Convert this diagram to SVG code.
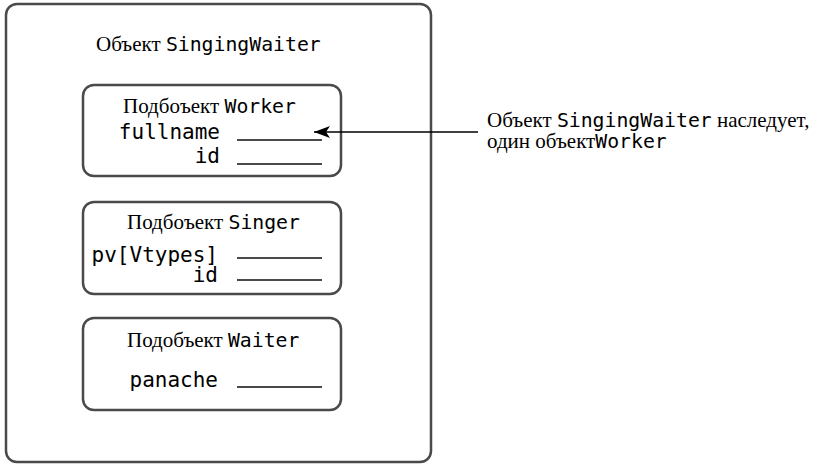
<svg xmlns="http://www.w3.org/2000/svg" width="819" height="464" viewBox="0 0 819 464">
<defs>
<style>
.box{fill:#fff;stroke:#4a4a4a;stroke-width:2.5}
.fld{stroke:#4a4a4a;stroke-width:2.2}
.ser{font-family:"Liberation Serif","Times New Roman",serif;font-size:21px;fill:#000}
.mono{font-family:"DejaVu Sans Mono","Liberation Mono",monospace;font-size:19.8px}
.fname{font-family:"DejaVu Sans Mono","Liberation Mono",monospace;font-size:21px;fill:#000}
</style>
<marker id="ah" markerWidth="16" markerHeight="12" refX="16" refY="6" orient="auto" markerUnits="userSpaceOnUse">
<path d="M0,0 L16,6 L0,12 L4,6 Z" fill="#000"/>
</marker>
</defs>
<rect width="819" height="464" fill="#fff"/>
<g id="singingwaiter">
<rect class="box" x="6" y="4" width="425" height="458" rx="11"/>
<text class="ser" x="96" y="51">Объект <tspan class="mono">SingingWaiter</tspan></text>
</g>
<g id="worker">
<rect class="box" x="83" y="85" width="258" height="91" rx="11"/>
<text class="ser" x="123" y="113">Подбоъект <tspan class="mono">Worker</tspan></text>
<text class="fname" x="220" y="139" text-anchor="end">fullname</text>
<text class="fname" x="220" y="163" text-anchor="end">id</text>
<line class="fld" x1="237" y1="140" x2="322" y2="140"/>
<line class="fld" x1="237" y1="164" x2="322" y2="164"/>
</g>
<g id="singer">
<rect class="box" x="83" y="202" width="258" height="92" rx="11"/>
<text class="ser" x="127" y="229">Подбоъект <tspan class="mono">Singer</tspan></text>
<text class="fname" x="218" y="262" text-anchor="end">pv[Vtypes]</text>
<text class="fname" x="218" y="282" text-anchor="end">id</text>
<line class="fld" x1="237" y1="258" x2="322" y2="258"/>
<line class="fld" x1="237" y1="280" x2="322" y2="280"/>
</g>
<g id="waiter">
<rect class="box" x="83" y="318" width="258" height="92" rx="11"/>
<text class="ser" x="127" y="347">Подобъект <tspan class="mono">Waiter</tspan></text>
<text class="fname" x="218" y="387" text-anchor="end">panache</text>
<line class="fld" x1="237" y1="387" x2="322" y2="387"/>
</g>
<g id="note">
<text class="ser" x="487" y="127">Объект <tspan class="mono">SingingWaiter</tspan> наследует,</text>
<text class="ser" x="487" y="148">один объект<tspan class="mono">Worker</tspan></text>
</g>
<g id="connectors">
<line x1="478" y1="132" x2="314" y2="132" stroke="#000" stroke-width="1.6" marker-end="url(#ah)"/>
</g>
</svg>
